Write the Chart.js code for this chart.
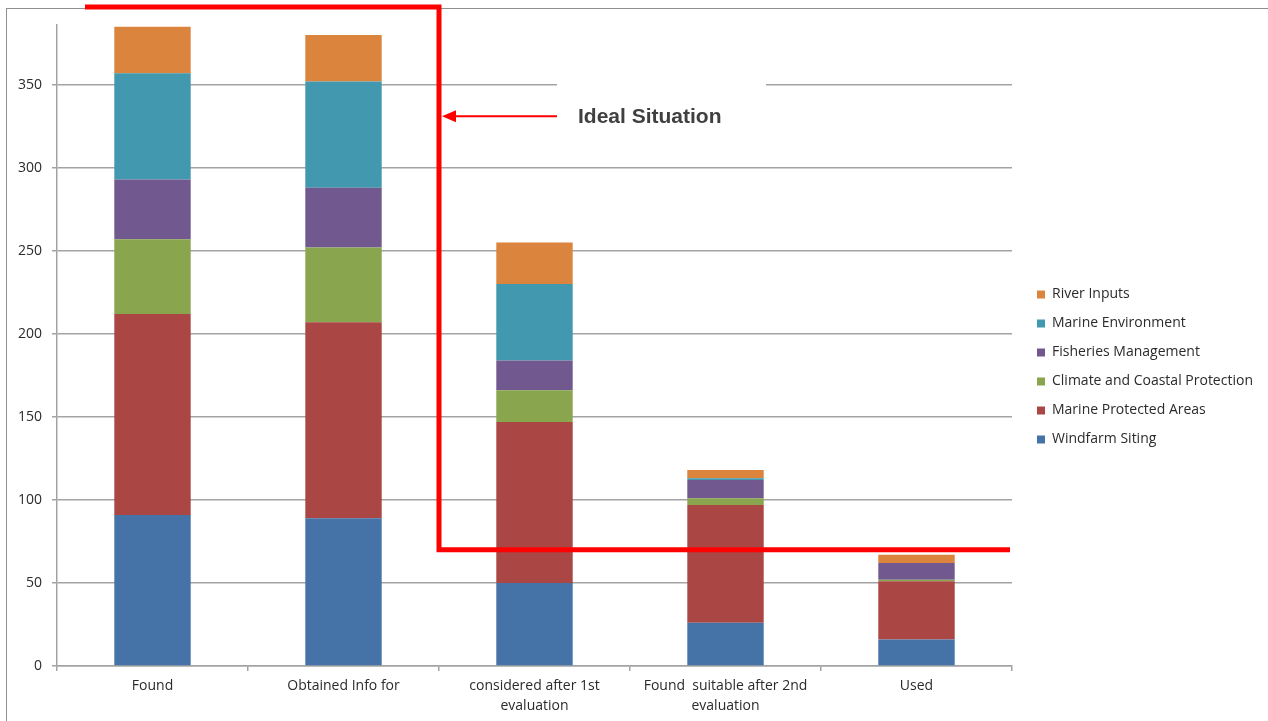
<!DOCTYPE html>
<html>
<head>
<meta charset="utf-8">
<script src="https://cdn.jsdelivr.net/npm/chart.js@4"></script>
<style>
  html, body { margin: 0; padding: 0; background: #fff; }
  canvas { display: block; }
</style>
</head>
<body>
<canvas id="stageChart" width="1268" height="721"></canvas>
<script>
// Stages along the x axis
var stages = ['Found', 'Obtained Info for', ['considered after 1st', 'evaluation'], ['Found  suitable after 2nd', 'evaluation'], 'Used'];

// Counts per theme (bottom of the stack first)
var windfarmSiting = [91, 89, 50, 26, 16];
var marineProtectedAreas = [121, 118, 97, 71, 35];
var climateCoastal = [45, 45, 19, 4, 1];
var fisheriesManagement = [36, 36, 18, 11, 10];
var marineEnvironment = [64, 64, 46, 1, 0];
var riverInputs = [28, 28, 25, 5, 5];

var seriesNames = ['Windfarm Siting', 'Marine Protected Areas', 'Climate and Coastal Protection', 'Fisheries Management', 'Marine Environment', 'River Inputs'];
var seriesData = [windfarmSiting, marineProtectedAreas, climateCoastal, fisheriesManagement, marineEnvironment, riverInputs];
var seriesColors = [
    '#4572A7', // blue
    '#AA4643', // red
    '#89A54E', // green
    '#71588F', // purple
    '#4198AF', // teal
    '#DB843D'  // orange
];

// The red "ideal situation" outline
var idealLevel = 70;     // horizontal part, in axis units
var idealSplit = 1.5;    // vertical part, between 2nd and 3rd stage
var calloutValue = 331;  // height of the arrow and its label

var gridColor = '#a3a3a3';
var textColor = '#2b2b2b';

// Frame, red outline, arrow and label
var decorations = {
    id: 'decorations',
    afterLayout: function(chart) {
        // nudge the legend to sit where the original has it
        chart.legend.left += 10;
        chart.legend.top -= 6;
        chart.legend.bottom -= 6;
    },
    afterDraw: function(chart) {
        var ctx = chart.ctx;
        var area = chart.chartArea;
        var xs = chart.scales.x;
        var ys = chart.scales.y;
        var splitX = xs.getPixelForValue(idealSplit);
        var levelY = ys.getPixelForValue(idealLevel);
        var arrowY = ys.getPixelForValue(calloutValue);
        var topY = area.top - 18;

        ctx.save();
        // outer chart frame
        ctx.strokeStyle = '#8f8f8f';
        ctx.lineWidth = 1;
        ctx.strokeRect(6.5, 8.5, 1400, 900);

        // white label box hiding the grid line
        ctx.fillStyle = '#ffffff';
        ctx.fillRect(splitX + 118, arrowY - 38, 209, 74);

        // red outline
        ctx.strokeStyle = '#ff0000';
        ctx.lineWidth = 5;
        ctx.lineJoin = 'miter';
        ctx.beginPath();
        ctx.moveTo(area.left + 28, topY);
        ctx.lineTo(splitX, topY);
        ctx.lineTo(splitX, levelY);
        ctx.lineTo(area.right - 2, levelY);
        ctx.stroke();

        // arrow
        ctx.lineWidth = 2;
        ctx.beginPath();
        ctx.moveTo(splitX + 118, arrowY);
        ctx.lineTo(splitX + 14, arrowY);
        ctx.stroke();
        ctx.fillStyle = '#ff0000';
        ctx.beginPath();
        ctx.moveTo(splitX + 3, arrowY);
        ctx.lineTo(splitX + 17, arrowY - 6);
        ctx.lineTo(splitX + 17, arrowY + 6);
        ctx.closePath();
        ctx.fill();

        // label
        ctx.fillStyle = '#404040';
        ctx.font = 'bold 21px "Liberation Sans", Arial, sans-serif';
        ctx.textAlign = 'left';
        ctx.textBaseline = 'middle';
        ctx.fillText('Ideal Situation', splitX + 139, arrowY + 1);
        ctx.restore();
    }
};

// Fixed legend width so the plot ends where the original does
var legendWidth = {
    id: 'legendWidth',
    beforeInit: function(chart) {
        var fit = chart.legend.fit;
        chart.legend.fit = function() {
            fit.call(chart.legend);
            this.width = 256;
        };
    }
};

var datasets = seriesNames.map(function(name, i) {
    return {
        label: name,
        data: seriesData[i],
        backgroundColor: seriesColors[i],
        borderWidth: 0,
        barPercentage: 0.4,
        categoryPercentage: 1.0
    };
});

var ctx = document.getElementById('stageChart').getContext('2d');
new Chart(ctx, {
    type: 'bar',
    data: {
        labels: stages,
        datasets: datasets
    },
    options: {
        responsive: false,
        animation: false,
        layout: {
            padding: { left: 6, top: 25, right: 0, bottom: 0 }
        },
        scales: {
            x: {
                stacked: true,
                grid: {
                    offset: true,
                    drawOnChartArea: false,
                    color: gridColor,
                    lineWidth: 1.5,
                    tickLength: 5
                },
                border: { color: gridColor, width: 1.5 },
                ticks: {
                    color: textColor,
                    padding: 5,
                    maxRotation: 0,
                    autoSkip: false,
                    font: { family: '"Open Sans", "Noto Sans", sans-serif', size: 14, lineHeight: 20 / 14 }
                },
                afterFit: function(scale) { scale.height = 55; }
            },
            y: {
                stacked: true,
                min: 0,
                max: 386,
                grid: {
                    color: gridColor,
                    lineWidth: 1.5,
                    tickLength: 5
                },
                border: { color: gridColor, width: 1.5 },
                ticks: {
                    stepSize: 50,
                    includeBounds: false,
                    color: textColor,
                    padding: 10,
                    font: { family: '"Open Sans", "Noto Sans", sans-serif', size: 14 }
                },
                afterFit: function(scale) { scale.width = 51; }
            }
        },
        plugins: {
            legend: {
                position: 'right',
                reverse: true,
                labels: {
                    boxWidth: 8,
                    boxHeight: 8,
                    padding: 15,
                    color: textColor,
                    font: { family: '"Open Sans", "Noto Sans", sans-serif', size: 14 }
                }
            },
            tooltip: { enabled: false }
        }
    },
    plugins: [legendWidth, decorations]
});
</script>
</body>
</html>
